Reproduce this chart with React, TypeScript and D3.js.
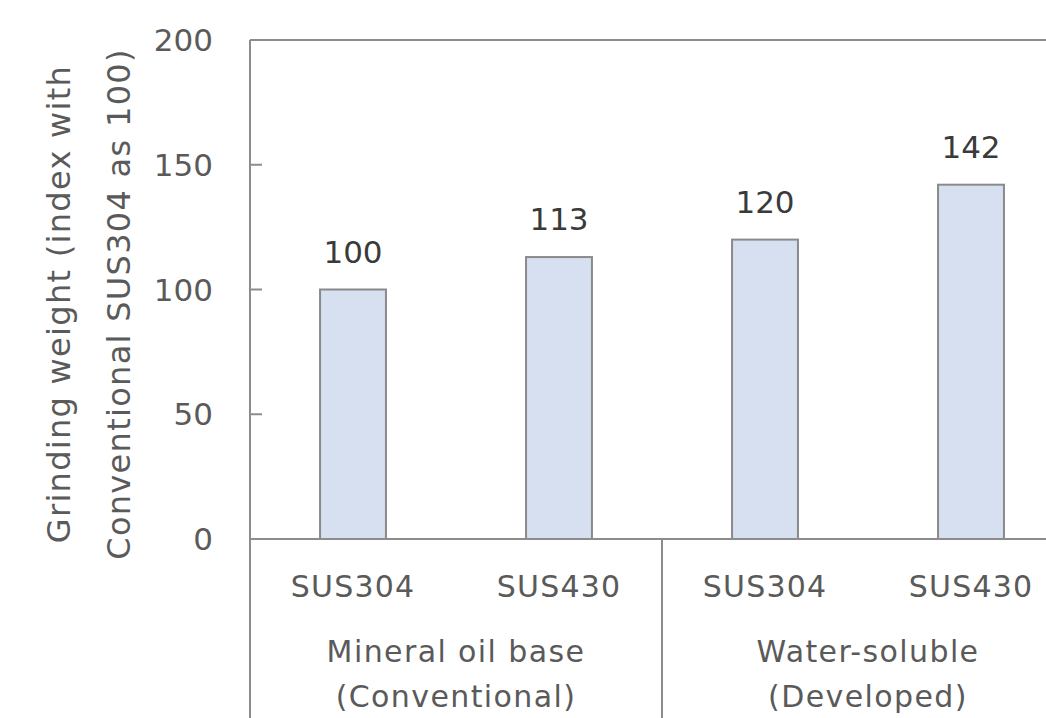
import * as d3 from "d3";
import { useEffect, useRef } from "react";

const materials = ["SUS304", "SUS430", "SUS304", "SUS430"];
const values = [100, 113, 120, 142];
const groups = [
  ["Mineral oil base", "(Conventional)"],
  ["Water-soluble", "(Developed)"],
];
const yTicks = [0, 50, 100, 150, 200];
const yTitle = ["Grinding weight (index with", "Conventional SUS304 as 100)"];

export default function App() {
  const svgRef = useRef<SVGSVGElement | null>(null);

  useEffect(() => {
    if (!svgRef.current) return;
    const svg = d3.select(svgRef.current);
    const width = 1046;
    const height = 718;
    const left = 250;
    const plotRight = 1074; // plot runs past the right edge of the picture
    const top = 40;
    const base = 539;
    const font = "DejaVu Sans";
    const axisColor = "#8c8c8c";

    svg.selectAll("*").remove();
    svg.attr("viewBox", `0 0 ${width} ${height}`);

    const idx = materials.map((_, i) => i);
    const x = d3
      .scaleBand<number>()
      .domain(idx)
      .range([left, plotRight])
      .paddingInner(0.68)
      .paddingOuter(0.34);

    const y = d3.scaleLinear().domain([0, 200]).range([base, top]);

    const step = x.step();

    // bars
    svg
      .append("g")
      .selectAll("rect")
      .data(values)
      .join("rect")
      .attr("x", (_, i) => x(i)!)
      .attr("y", (d) => y(d))
      .attr("width", x.bandwidth())
      .attr("height", (d) => base - y(d))
      .attr("fill", "#d7e0f1")
      .attr("stroke", "#8a8a8a")
      .attr("stroke-width", 2);

    // value labels
    svg
      .append("g")
      .selectAll("text")
      .data(values)
      .join("text")
      .attr("x", (_, i) => x(i)! + x.bandwidth() / 2)
      .attr("y", (d) => y(d) - 27)
      .attr("text-anchor", "middle")
      .attr("font-family", font)
      .attr("font-size", 31)
      .attr("fill", "#3a3a3a")
      .text((d) => d);

    // frame: top, left, baseline
    svg
      .append("line")
      .attr("x1", left)
      .attr("x2", width)
      .attr("y1", y(200))
      .attr("y2", y(200))
      .attr("stroke", axisColor)
      .attr("stroke-width", 2);
    svg
      .append("line")
      .attr("x1", left)
      .attr("x2", width)
      .attr("y1", base)
      .attr("y2", base)
      .attr("stroke", axisColor)
      .attr("stroke-width", 2);
    svg
      .append("line")
      .attr("x1", left)
      .attr("x2", left)
      .attr("y1", y(200))
      .attr("y2", height)
      .attr("stroke", axisColor)
      .attr("stroke-width", 2);

    // group separator
    svg
      .append("line")
      .attr("x1", left + step * 2)
      .attr("x2", left + step * 2)
      .attr("y1", base)
      .attr("y2", height)
      .attr("stroke", axisColor)
      .attr("stroke-width", 2);

    // y ticks
    const yAxis = svg.append("g");
    yAxis
      .selectAll("line")
      .data(yTicks.filter((t) => t > 0 && t < 200))
      .join("line")
      .attr("x1", left)
      .attr("x2", left + 12)
      .attr("y1", (d) => y(d))
      .attr("y2", (d) => y(d))
      .attr("stroke", axisColor)
      .attr("stroke-width", 2);
    yAxis
      .selectAll("text")
      .data(yTicks)
      .join("text")
      .attr("x", 213)
      .attr("y", (d) => y(d))
      .attr("dy", "0.36em")
      .attr("text-anchor", "end")
      .attr("font-family", font)
      .attr("font-size", 31)
      .attr("fill", "#5a5a5a")
      .text((d) => d);

    // material labels
    svg
      .append("g")
      .selectAll("text")
      .data(materials)
      .join("text")
      .attr("x", (_, i) => x(i)! + x.bandwidth() / 2)
      .attr("y", 597)
      .attr("text-anchor", "middle")
      .attr("font-family", font)
      .attr("font-size", 30)
      .attr("letter-spacing", 1.2)
      .attr("fill", "#5a5a5a")
      .text((d) => d);

    // group labels
    const g = svg
      .append("g")
      .selectAll("text")
      .data(groups)
      .join("text")
      .attr("text-anchor", "middle")
      .attr("font-family", font)
      .attr("font-size", 30)
      .attr("letter-spacing", 1.4)
      .attr("fill", "#5a5a5a");
    g.each(function (lines, gi) {
      const cx = left + step * (gi * 2 + 1);
      d3.select(this)
        .selectAll("tspan")
        .data(lines)
        .join("tspan")
        .attr("x", cx)
        .attr("y", (_, li) => 662 + li * 45)
        .text((d) => d);
    });

    // y title
    svg
      .append("g")
      .selectAll("text")
      .data(yTitle)
      .join("text")
      .attr("transform", (_, i) => `translate(${70 + i * 60},304) rotate(-90)`)
      .attr("text-anchor", "middle")
      .attr("font-family", font)
      .attr("font-size", 32)
      .attr("letter-spacing", 1.3)
      .attr("fill", "#5a5a5a")
      .text((d) => d);
  }, []);

  return (
    <svg
      ref={svgRef}
      width={1046}
      height={718}
      style={{ position: "absolute", left: 0, top: 0, background: "#fff" }}
    />
  );
}
